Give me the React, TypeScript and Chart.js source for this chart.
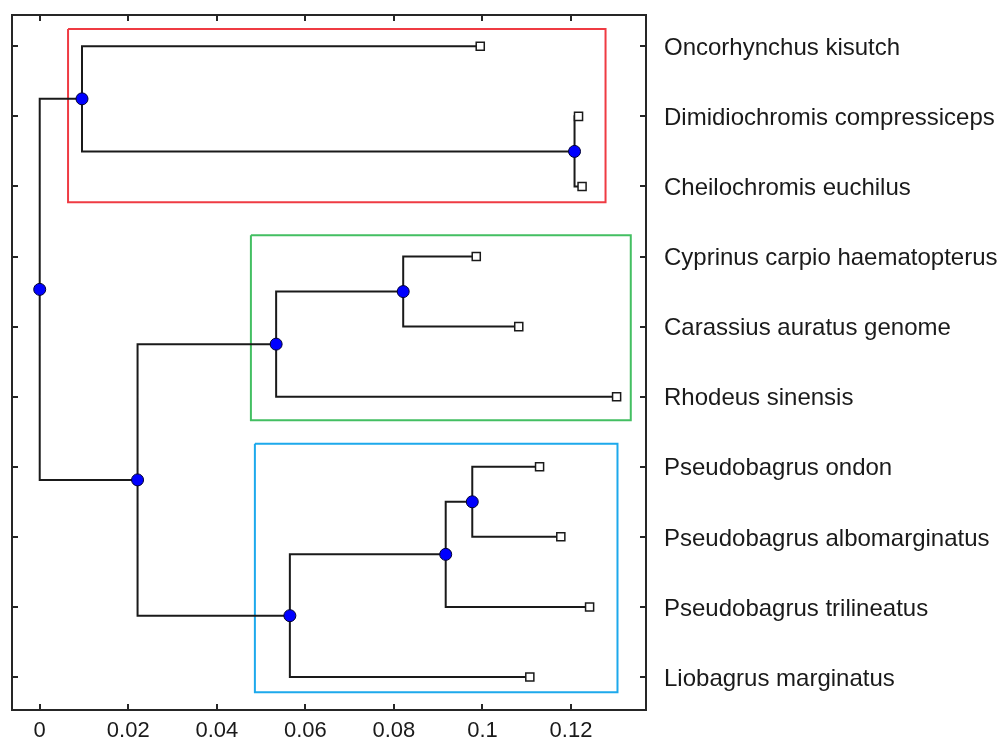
import React, { useEffect, useRef } from 'react';
import { Chart, registerables } from 'chart.js';

Chart.register(...registerables);

// ---- data ----
const leafLabels = [
  'Oncorhynchus kisutch',
  'Dimidiochromis compressiceps',
  'Cheilochromis euchilus',
  'Cyprinus carpio haematopterus',
  'Carassius auratus genome',
  'Rhodeus sinensis',
  'Pseudobagrus ondon',
  'Pseudobagrus albomarginatus',
  'Pseudobagrus trilineatus',
  'Liobagrus marginatus',
];
const leafDistance = [0.0995, 0.1217, 0.1225, 0.0986, 0.1082, 0.1303, 0.1129, 0.1177, 0.1242, 0.1107];

// internal nodes (ids 10..18): children ids and merge distance
const mergeLeft = [1, 0, 3, 12, 6, 14, 15, 13, 11];
const mergeRight = [2, 10, 4, 5, 7, 8, 9, 16, 17];
const mergeHeight = [0.1208, 0.00955, 0.0821, 0.0534, 0.0977, 0.0917, 0.0565, 0.0221, 0];

const xTicks = [0, 0.02, 0.04, 0.06, 0.08, 0.1, 0.12];
const xMin = -0.00626;
const xMax = 0.13694;
const yMin = 0.5534;
const yMax = 10.471;
const labelShift = 0.03; // small vertical nudge for right-side labels

const clusterX0 = [0.0064, 0.0477, 0.0486];
const clusterX1 = [0.1278, 0.1335, 0.1305];
const clusterY0 = [0.753, 3.697, 6.671];
const clusterY1 = [3.226, 6.337, 10.218];
const clusterColors = ['#EF3B43', '#43BF62', '#1DA9EC'];

// ---- derived tree geometry ----
function buildTree() {
  const px: number[] = [];
  const py: number[] = [];
  leafDistance.forEach((d, i) => {
    px[i] = d;
    py[i] = i + 1;
  });
  const n = leafDistance.length;
  mergeHeight.forEach((h, k) => {
    const id = n + k;
    px[id] = h;
    py[id] = (py[mergeLeft[k]] + py[mergeRight[k]]) / 2;
  });
  const segs: any[] = [];
  mergeHeight.forEach((h, k) => {
    const l = mergeLeft[k];
    const r = mergeRight[k];
    segs.push({ x: px[l], y: py[l] });
    segs.push({ x: h, y: py[l] });
    segs.push({ x: h, y: py[r] });
    segs.push({ x: px[r], y: py[r] });
    segs.push({ x: h, y: null });
  });
  const nodes = mergeHeight.map((h, k) => ({ x: px[n + k], y: py[n + k] }));
  const leaves = leafDistance.map((d, i) => ({ x: d, y: i + 1 }));
  return { segs, nodes, leaves };
}

const framePlugin = {
  id: 'frameTicks',
  afterDatasetsDraw(chart: any) {
    const { ctx, chartArea } = chart;
    const { left, right, top, bottom } = chartArea;
    const xs = chart.scales.x;
    const ys = chart.scales.y;
    const len = 6;
    ctx.save();
    ctx.strokeStyle = '#262626';
    ctx.lineWidth = 2;
    ctx.strokeRect(left, top, right - left, bottom - top);
    ctx.beginPath();
    xTicks.forEach((v) => {
      const p = Math.round(xs.getPixelForValue(v));
      ctx.moveTo(p, top);
      ctx.lineTo(p, top + len);
      ctx.moveTo(p, bottom);
      ctx.lineTo(p, bottom - len);
    });
    leafLabels.forEach((_, i) => {
      const p = Math.round(ys.getPixelForValue(i + 1));
      ctx.moveTo(left, p);
      ctx.lineTo(left + len, p);
      ctx.moveTo(right, p);
      ctx.lineTo(right - len, p);
    });
    ctx.stroke();
    ctx.restore();
  },
};

export default function App() {
  const ref = useRef<HTMLCanvasElement | null>(null);
  useEffect(() => {
    if (!ref.current) return;
    Chart.defaults.font.family = "'Liberation Sans', Arial, sans-serif";
    const { segs, nodes, leaves } = buildTree();
    const boxSets = clusterColors.map((c, i) => ({
      type: 'line' as const,
      data: [
        { x: clusterX0[i], y: clusterY0[i] },
        { x: clusterX1[i], y: clusterY0[i] },
        { x: clusterX1[i], y: clusterY1[i] },
        { x: clusterX0[i], y: clusterY1[i] },
        { x: clusterX0[i], y: clusterY0[i] },
      ],
      borderColor: c,
      borderWidth: 2,
      pointRadius: 0,
      tension: 0,
      fill: false,
      order: 3,
    }));
    const chart = new Chart(ref.current, {
      type: 'scatter',
      data: {
        datasets: [
          {
            type: 'scatter',
            data: nodes,
            pointStyle: 'circle',
            pointRadius: 6,
            backgroundColor: '#0000FF',
            borderColor: '#000033',
            borderWidth: 1,
            order: 0,
          } as any,
          {
            type: 'scatter',
            data: leaves,
            pointStyle: 'rect',
            pointRadius: 5.7,
            backgroundColor: '#FFFFFF',
            borderColor: '#1a1a1a',
            borderWidth: 1.5,
            order: 1,
          } as any,
          {
            type: 'line',
            data: segs,
            borderColor: '#1a1a1a',
            borderWidth: 2,
            pointRadius: 0,
            tension: 0,
            spanGaps: false,
            fill: false,
            order: 2,
          } as any,
          ...boxSets,
        ],
      },
      options: {
        animation: false,
        responsive: true,
        maintainAspectRatio: false,
        layout: { padding: { left: 12, top: 15, right: 0, bottom: 0 } },
        plugins: { legend: { display: false }, tooltip: { enabled: false } },
        scales: {
          x: {
            type: 'linear',
            position: 'bottom',
            min: xMin,
            max: xMax,
            grid: { display: false, drawTicks: false },
            border: { display: false },
            ticks: {
              font: { size: 22 },
              color: '#1a1a1a',
              padding: 8,
              maxRotation: 0,
              callback: (v: any) => String(Number(Number(v).toFixed(2))),
            },
            afterBuildTicks: (s: any) => {
              s.ticks = xTicks.map((v) => ({ value: v }));
            },
            afterFit: (s: any) => {
              s.height = 29;
              s.paddingLeft = 0;
              s.paddingRight = 0;
              s.paddingTop = 0;
              s.paddingBottom = 0;
            },
          },
          y: {
            type: 'linear',
            display: false,
            reverse: true,
            min: yMin,
            max: yMax,
          },
          y2: {
            type: 'linear',
            position: 'right',
            reverse: true,
            min: yMin - labelShift,
            max: yMax - labelShift,
            grid: { display: false, drawTicks: false },
            border: { display: false },
            ticks: {
              font: { size: 24 },
              color: '#1a1a1a',
              padding: 18,
              callback: (v: any) => leafLabels[Math.round(Number(v)) - 1] ?? '',
            },
            afterBuildTicks: (s: any) => {
              s.ticks = leafLabels.map((_, i) => ({ value: i + 1 }));
            },
            afterFit: (s: any) => {
              s.width = 360;
              s.paddingTop = 0;
              s.paddingBottom = 0;
              s.paddingLeft = 0;
              s.paddingRight = 0;
            },
          },
        },
      } as any,
      plugins: [framePlugin],
    });
    return () => chart.destroy();
  }, []);
  return (
    <div style={{ position: 'fixed', left: 0, top: 0, width: 1006, height: 739, background: '#fff' }}>
      <canvas ref={ref} />
    </div>
  );
}
